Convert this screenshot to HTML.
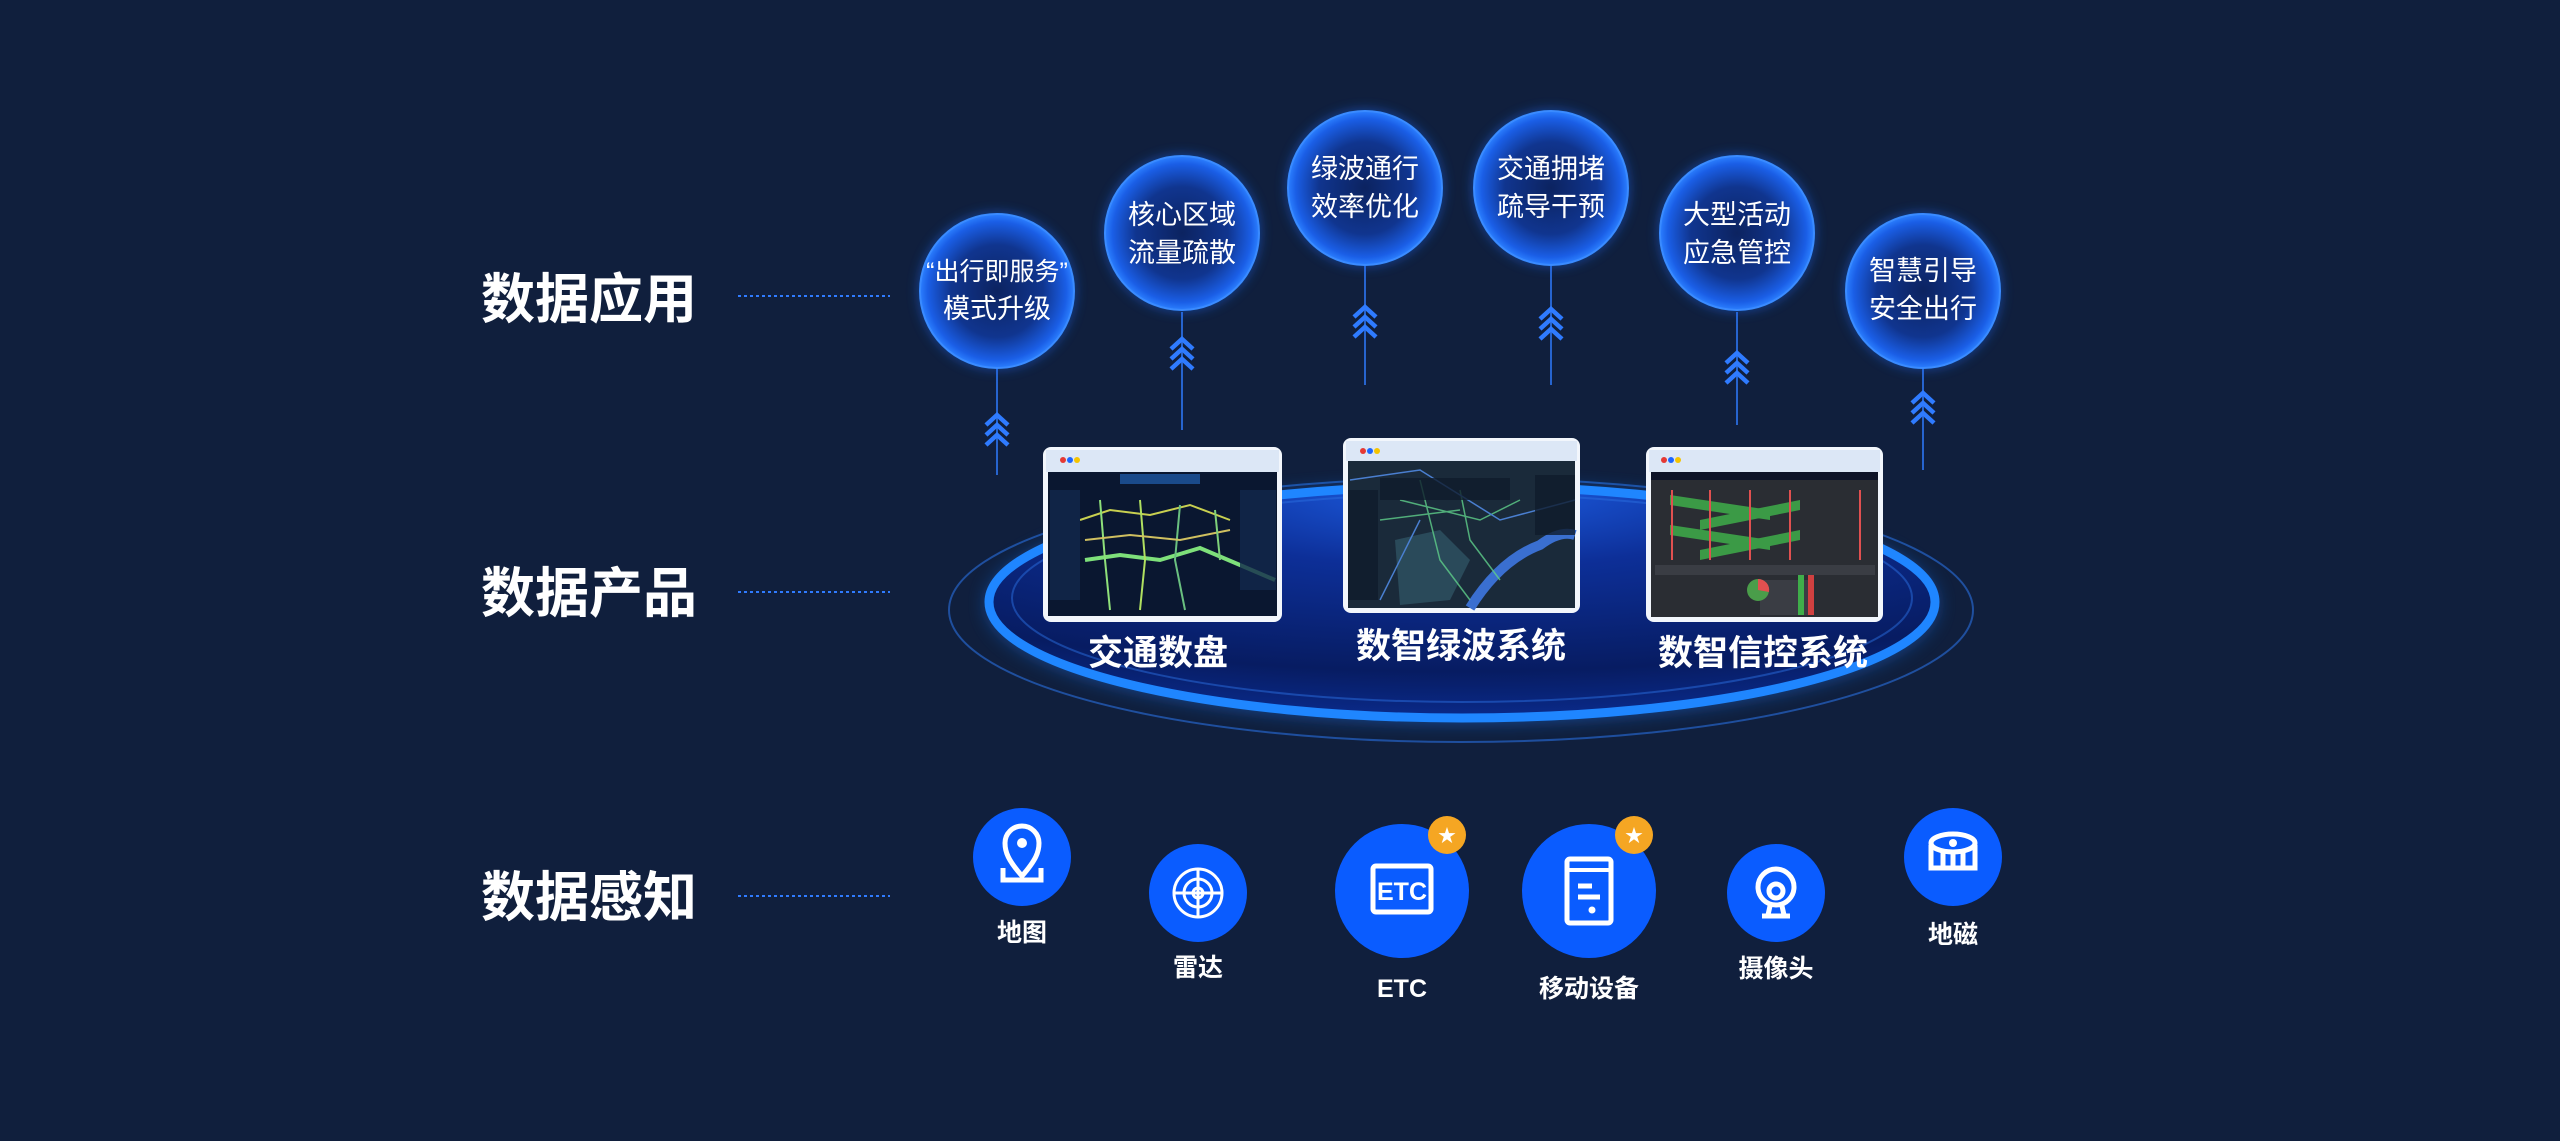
<!DOCTYPE html>
<html><head><meta charset="utf-8"><style>
html,body{margin:0;padding:0;background:#101f3d;}
svg{display:block}
text{font-family:"Liberation Sans","Noto Sans CJK SC",sans-serif;}
</style></head><body>
<svg width="2560" height="1141" viewBox="0 0 2560 1141" xmlns="http://www.w3.org/2000/svg">
<defs>
<radialGradient id="bub" cx="50%" cy="50%" r="50%">
<stop offset="0" stop-color="#0c2360"/><stop offset="0.6" stop-color="#10358f"/><stop offset="0.9" stop-color="#1a5ee6"/><stop offset="1" stop-color="#2b7fff"/>
</radialGradient>
<filter id="glow" x="-30%" y="-30%" width="160%" height="160%"><feGaussianBlur stdDeviation="6"/></filter>
<filter id="glow2" x="-10%" y="-30%" width="120%" height="160%"><feGaussianBlur stdDeviation="10"/></filter>
<radialGradient id="plat" cx="50%" cy="0%" r="100%">
<stop offset="0" stop-color="#1d5fe6"/><stop offset="0.35" stop-color="#0d2f98"/><stop offset="0.8" stop-color="#071c62"/><stop offset="1" stop-color="#0a2a8a"/>
</radialGradient>
<g id="chev" fill="none" stroke="#2f7bff" stroke-width="4.5">
<polyline points="-11,10 0,0 11,10"/><polyline points="-11,20 0,10 11,20"/><polyline points="-11,30 0,20 11,30"/>
</g>
</defs>
<rect width="2560" height="1141" fill="#101f3d"/>

<g fill="#fff" font-size="54" font-weight="bold">
<text x="481" y="318">数据应用</text>
<text x="481" y="612">数据产品</text>
<text x="481" y="916">数据感知</text>
</g>
<g stroke="#2f7bff" stroke-width="2" stroke-dasharray="3,3">
<line x1="738" y1="296" x2="890" y2="296"/><line x1="738" y1="592" x2="890" y2="592"/><line x1="738" y1="896" x2="890" y2="896"/>
</g>

<ellipse cx="1461" cy="610" rx="512" ry="132" fill="none" stroke="#1f4f9e" stroke-width="2"/>
<ellipse cx="1462" cy="604" rx="473" ry="116" fill="#1a7cff" opacity="0.6" filter="url(#glow2)"/>
<ellipse cx="1462" cy="602" rx="473" ry="116" fill="url(#plat)" stroke="#1f86ff" stroke-width="9"/>
<ellipse cx="1462" cy="598" rx="450" ry="104" fill="none" stroke="#2a6de0" stroke-width="2" opacity="0.5"/>

<g stroke="#2f7bff" stroke-width="2" opacity="0.75">
<line x1="997" y1="368" x2="997" y2="475"/>
<line x1="1182" y1="312" x2="1182" y2="430"/>
<line x1="1365" y1="266" x2="1365" y2="385"/>
<line x1="1551" y1="266" x2="1551" y2="385"/>
<line x1="1737" y1="312" x2="1737" y2="425"/>
<line x1="1923" y1="368" x2="1923" y2="470"/>
</g>
<use href="#chev" x="997" y="415"/>
<use href="#chev" x="1182" y="339"/>
<use href="#chev" x="1365" y="307"/>
<use href="#chev" x="1551" y="309"/>
<use href="#chev" x="1737" y="353"/>
<use href="#chev" x="1923" y="393"/>

<g>
<circle cx="997" cy="291" r="78" fill="#1f6cff" opacity="0.5" filter="url(#glow)"/>
<circle cx="1182" cy="233" r="78" fill="#1f6cff" opacity="0.5" filter="url(#glow)"/>
<circle cx="1365" cy="188" r="78" fill="#1f6cff" opacity="0.5" filter="url(#glow)"/>
<circle cx="1551" cy="188" r="78" fill="#1f6cff" opacity="0.5" filter="url(#glow)"/>
<circle cx="1737" cy="233" r="78" fill="#1f6cff" opacity="0.5" filter="url(#glow)"/>
<circle cx="1923" cy="291" r="78" fill="#1f6cff" opacity="0.5" filter="url(#glow)"/>
</g>
<g fill="url(#bub)" stroke="#3a8bff" stroke-width="2">
<circle cx="997" cy="291" r="77"/><circle cx="1182" cy="233" r="77"/><circle cx="1365" cy="188" r="77"/>
<circle cx="1551" cy="188" r="77"/><circle cx="1737" cy="233" r="77"/><circle cx="1923" cy="291" r="77"/>
</g>
<g fill="#fff" font-size="27" text-anchor="middle">
<text x="997" y="280" font-size="25">“出行即服务”</text><text x="997" y="318">模式升级</text>
<text x="1182" y="224">核心区域</text><text x="1182" y="262">流量疏散</text>
<text x="1365" y="178">绿波通行</text><text x="1365" y="216">效率优化</text>
<text x="1551" y="178">交通拥堵</text><text x="1551" y="216">疏导干预</text>
<text x="1737" y="224">大型活动</text><text x="1737" y="262">应急管控</text>
<text x="1923" y="280">智慧引导</text><text x="1923" y="318">安全出行</text>
</g>

<g>
<rect x="1043" y="447" width="239" height="175" rx="8" fill="#f2f6fc"/>
<rect x="1046" y="450" width="233" height="22" fill="#dce7f6"/>
<circle cx="1063" cy="460" r="3" fill="#e53935"/><circle cx="1070" cy="460" r="3" fill="#1e66ff"/><circle cx="1077" cy="460" r="3" fill="#f5c400"/>
<rect x="1048" y="472" width="229" height="144" fill="#0a1730"/>
<rect x="1120" y="474" width="80" height="10" fill="#1a4a8a"/>
<g fill="none" stroke-width="2">
<path d="M1080 520 L1110 510 L1150 515 L1190 505 L1230 520" stroke="#c8d050"/>
<path d="M1085 560 L1120 555 L1160 560 L1200 548 L1240 565 L1275 580" stroke="#7ee07a" stroke-width="4"/>
<path d="M1100 500 L1105 560 L1110 610" stroke="#8fe07a"/>
<path d="M1140 500 L1145 560 L1140 610" stroke="#b0e060"/>
<path d="M1180 505 L1175 560 L1185 610" stroke="#6ac080"/>
<path d="M1085 540 L1130 535 L1180 540 L1230 530" stroke="#d0c060"/>
<path d="M1215 510 L1220 560" stroke="#7ed07a"/>
</g>
<rect x="1050" y="490" width="30" height="110" fill="#12284c" opacity="0.8"/>
<rect x="1240" y="490" width="36" height="100" fill="#12284c" opacity="0.8"/>
</g>
<g>
<rect x="1343" y="438" width="237" height="175" rx="8" fill="#f2f6fc"/>
<rect x="1346" y="441" width="231" height="20" fill="#dce7f6"/>
<circle cx="1363" cy="451" r="3" fill="#e53935"/><circle cx="1370" cy="451" r="3" fill="#1e66ff"/><circle cx="1377" cy="451" r="3" fill="#f5c400"/>
<rect x="1348" y="461" width="227" height="147" fill="#1a2a3a"/>
<path d="M1395 540 L1440 530 L1470 560 L1450 600 L1400 605 Z" fill="#2a4a5a"/>
<path d="M1470 608 Q1500 560 1540 545 Q1560 530 1575 535" fill="none" stroke="#3a6fd0" stroke-width="10"/>
<g fill="none" stroke="#5fcf8a" stroke-width="1.5" opacity="0.8">
<path d="M1400 500 L1480 520 L1520 500"/><path d="M1420 480 L1440 560 L1470 600"/><path d="M1460 490 L1470 540 L1500 580"/><path d="M1380 520 L1460 510"/>
</g>
<g fill="none" stroke="#4a7fd0" stroke-width="1.5"><path d="M1350 480 L1420 470 L1500 520 L1575 500"/><path d="M1380 600 L1420 520"/></g>
<rect x="1348" y="490" width="30" height="110" fill="#0f1c2c" opacity="0.8"/>
<rect x="1535" y="475" width="40" height="60" fill="#0f1c2c" opacity="0.8"/>
<rect x="1380" y="478" width="130" height="22" fill="#0f1c2c" opacity="0.8"/>
</g>
<g>
<rect x="1646" y="447" width="237" height="175" rx="8" fill="#f2f6fc"/>
<rect x="1649" y="450" width="231" height="22" fill="#dce7f6"/>
<circle cx="1664" cy="460" r="3" fill="#e53935"/><circle cx="1671" cy="460" r="3" fill="#1e66ff"/><circle cx="1678" cy="460" r="3" fill="#f5c400"/>
<rect x="1651" y="472" width="227" height="145" fill="#2a2d33"/>
<rect x="1651" y="472" width="227" height="8" fill="#0e1428"/>
<g fill="#3fae4a" opacity="0.85">
<path d="M1670 495 L1770 510 L1770 520 L1670 505Z"/><path d="M1700 520 L1800 500 L1800 510 L1700 530Z"/>
<path d="M1670 525 L1770 540 L1770 550 L1670 535Z"/><path d="M1700 550 L1800 530 L1800 540 L1700 560Z"/>
</g>
<g stroke="#e05050" stroke-width="2"><line x1="1672" y1="490" x2="1672" y2="560"/><line x1="1710" y1="490" x2="1710" y2="560"/><line x1="1750" y1="490" x2="1750" y2="560"/><line x1="1790" y1="490" x2="1790" y2="560"/><line x1="1860" y1="490" x2="1860" y2="560"/></g>
<rect x="1655" y="565" width="220" height="10" fill="#3a3d44"/>
<rect x="1760" y="580" width="50" height="35" fill="#3a3d44"/>
<circle cx="1758" cy="590" r="11" fill="#4a9d4a"/><path d="M1758 590 L1758 579 A11 11 0 0 1 1769 592Z" fill="#e05050"/>
<rect x="1798" y="575" width="6" height="40" fill="#3fae4a"/><rect x="1808" y="575" width="6" height="40" fill="#d04040"/>
</g>

<g fill="#fff" font-size="35" font-weight="bold" text-anchor="middle">
<text x="1158" y="665">交通数盘</text>
<text x="1461" y="658">数智绿波系统</text>
<text x="1763" y="665">数智信控系统</text>
</g>

<g fill="#0a5cff">
<circle cx="1022" cy="857" r="49"/><circle cx="1198" cy="893" r="49"/>
<circle cx="1402" cy="891" r="67"/><circle cx="1589" cy="891" r="67"/>
<circle cx="1776" cy="893" r="49"/><circle cx="1953" cy="857" r="49"/>
</g>
<g fill="#f5a623"><circle cx="1447" cy="835" r="19"/><circle cx="1634" cy="835" r="19"/></g>
<g fill="#fff" font-size="18" text-anchor="middle"><text x="1447" y="842">★</text><text x="1634" y="842">★</text></g>
<g fill="none" stroke="#fff" stroke-width="5">
<path d="M1022 876 C1008 860 1005 852 1005 843 A17 17 0 0 1 1039 843 C1039 852 1036 860 1022 876Z"/>
<path d="M1003 868 L1003 880 L1041 880 L1041 868"/>
<circle cx="1198" cy="893" r="24" stroke-width="3"/><circle cx="1198" cy="893" r="14" stroke-width="3"/><circle cx="1198" cy="893" r="5" stroke-width="3"/>
<line x1="1174" y1="893" x2="1222" y2="893" stroke-width="3"/><line x1="1198" y1="869" x2="1198" y2="917" stroke-width="3"/>
<rect x="1373" y="866" width="58" height="46" rx="3"/>
<rect x="1567" y="859" width="44" height="64" rx="3"/>
<line x1="1567" y1="870" x2="1611" y2="870" stroke-width="4"/>
<line x1="1578" y1="886" x2="1592" y2="886"/><line x1="1578" y1="897" x2="1600" y2="897"/>
<circle cx="1776" cy="887" r="18"/><circle cx="1776" cy="891" r="7"/>
<path d="M1770 906 L1768 915 M1782 906 L1784 915 M1762 916 L1790 916"/>
<ellipse cx="1953" cy="843" rx="22" ry="9"/>
<path d="M1931 845 L1931 868 L1975 868 L1975 845"/>
<path d="M1943 852 L1943 866 M1953 853 L1953 866 M1963 852 L1963 866"/>
</g>
<circle cx="1022" cy="843" r="5" fill="#fff"/>
<circle cx="1953" cy="843" r="4" fill="#fff"/>
<circle cx="1592" cy="910" r="3.5" fill="#fff"/>
<text x="1402" y="900" fill="#fff" font-size="25" font-weight="bold" text-anchor="middle">ETC</text>
<g fill="#fff" font-size="25" font-weight="bold" text-anchor="middle">
<text x="1022" y="941">地图</text>
<text x="1198" y="976">雷达</text>
<text x="1402" y="997">ETC</text>
<text x="1589" y="997">移动设备</text>
<text x="1776" y="977">摄像头</text>
<text x="1953" y="943">地磁</text>
</g>
</svg>
</body></html>
